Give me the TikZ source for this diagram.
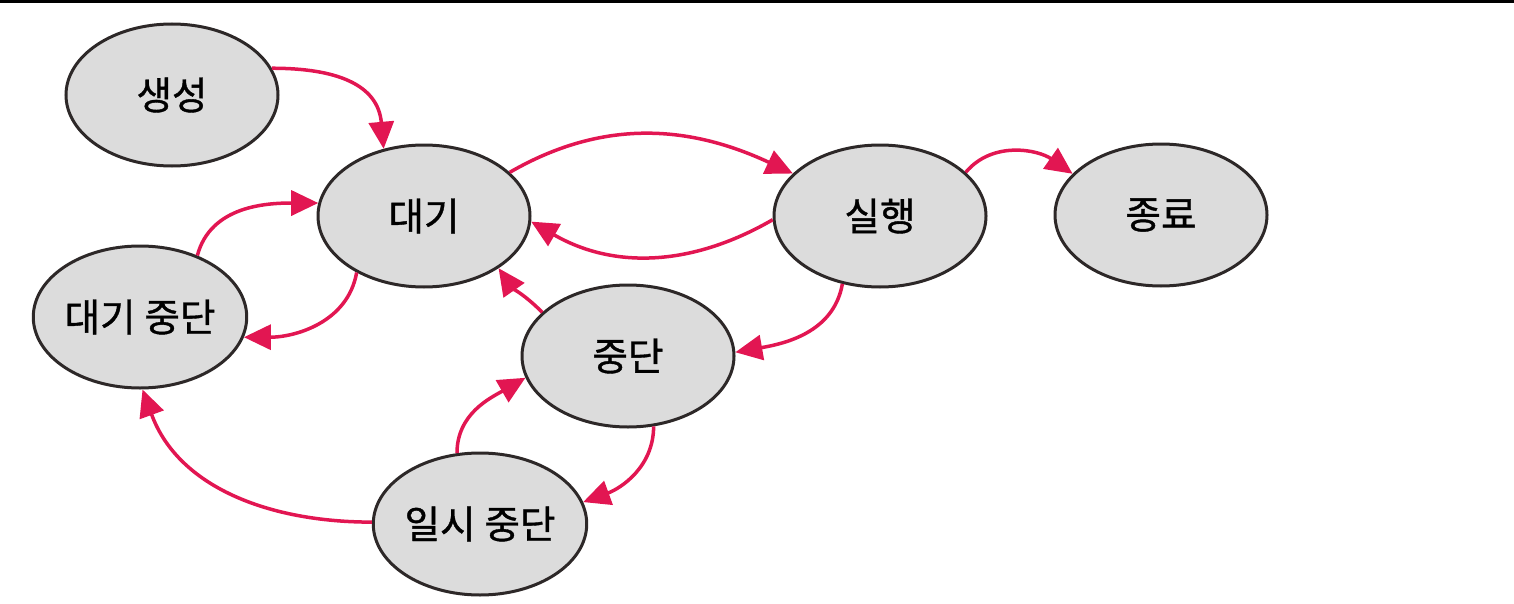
\documentclass[tikz,border=0pt]{standalone}
\usepackage{fontspec}
\newfontfamily\kr{Noto Sans CJK KR}[FakeBold=1]
\usetikzlibrary{positioning, arrows.meta, shapes.geometric}
\definecolor{statefill}{RGB}{220,220,220}
\definecolor{stateline}{RGB}{45,40,40}
\definecolor{arrowred}{RGB}{226,22,82}

\begin{document}
\begin{tikzpicture}[
    x=0.2mm, y=0.2mm,
    state/.style={draw=stateline, ellipse, line width=0.6mm, fill=statefill, minimum width=42.4mm, minimum height=28.4mm, inner sep=0pt},
    arrow/.style={-{Triangle[length=5.4mm, width=5mm]}, line width=0.7mm, draw=arrowred},
    font=\kr\fontsize{22}{26}\selectfont
]
\useasboundingbox (0,0) rectangle (1514,-604);
\draw[line width=0.6mm] (0,-1) -- (1514,-1);

% States
\node[state] (create) at (172,-95) {생성};
\node[state] (ready) at (424,-216) {대기};
\node[state] (run) at (880,-216) {실행};
\node[state] (done) at (1161,-215) {종료};
\node[state] (readystop) at (140,-317) {대기 중단};
\node[state] (stop) at (628,-356) {중단};
\node[state] (pause) at (480,-524) {일시 중단};

% Arrows
\draw[arrow] (create.15) to[out=0, in=95, looseness=1.2] (ready.121);
\draw[arrow] (ready.27) to[out=30, in=155] (run.154);
\draw[arrow] (run.182) to[out=-150, in=-30] (ready.-3);
\draw[arrow] (run.27) to[out=50, in=145] (done.155);
\draw[arrow] (run.241) to[out=-100, in=10] (stop.2);
\draw[arrow] (stop.153) to[out=135, in=-55] (ready.-35);
\draw[arrow] (ready.220) to[out=-100, in=0] (readystop.-11);
\draw[arrow] (readystop.47) to[out=75, in=180] (ready.173);
\draw[arrow] (pause.179) to[out=180, in=-70] (readystop.-88);
\draw[arrow] (pause.108) to[out=90, in=210] (stop.192);
\draw[arrow] (stop.-70) to[out=-90, in=20] (pause.12);

\end{tikzpicture}
\end{document}
